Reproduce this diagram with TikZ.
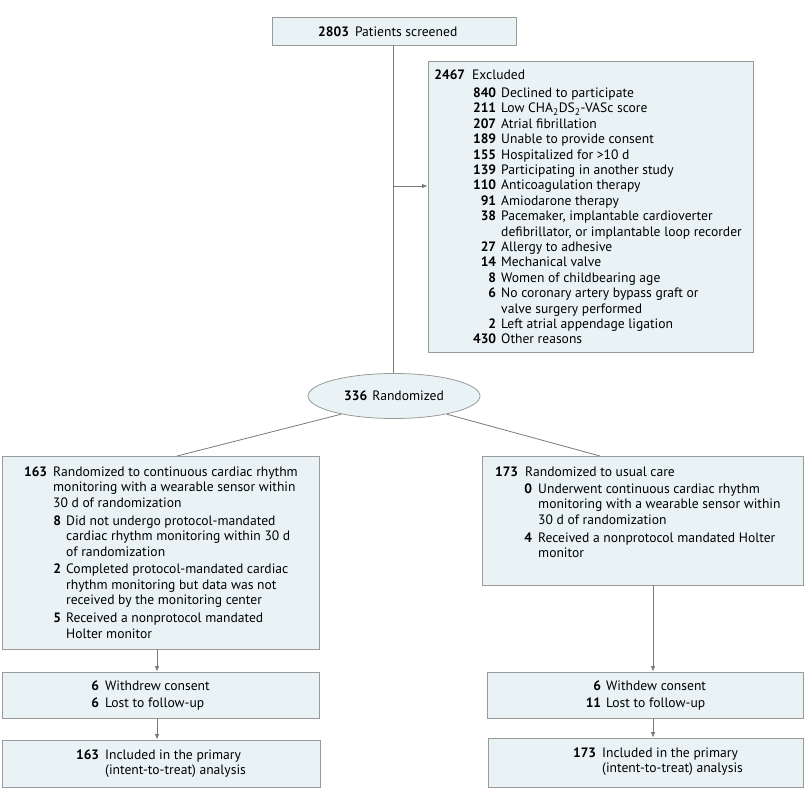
\documentclass[tikz,border=0pt]{standalone}
\usepackage{fontspec}
\setmainfont{PT Sans}
\usetikzlibrary{arrows.meta,shapes.geometric}
\definecolor{boxfill}{HTML}{E9F3F5}
\definecolor{boxline}{HTML}{9A9A9A}
\definecolor{linkgray}{HTML}{7A7A7A}
\newcommand\numrow[4]{\makebox[#1][r]{\textbf{#3}}\hspace{#2}#4}
\newcommand\controw[2]{\hspace{#1}#2}
\begin{document}
\begin{tikzpicture}[x=1pt,y=-1pt,
  font=\fontsize{13.6}{15.4}\selectfont,
  box/.style={draw=boxline, fill=boxfill, line width=0.8pt, inner sep=0pt, rectangle},
  txt/.style={anchor=base west, inner sep=0pt, align=left},
  link/.style={draw=linkgray, line width=0.8pt},
  arr/.style={link, -{Latex[length=5.5pt,width=4.5pt]}}]
\useasboundingbox (0,0) rectangle (810,801);

% boxes
\node[box, minimum width=244pt, minimum height=28pt] (top) at (394,31) {};
\node[box, minimum width=325pt, minimum height=291pt] (excl) at (590.5,206.5) {};
\node[draw=boxline, fill=boxfill, line width=0.8pt, ellipse, inner sep=0pt,
      minimum width=172pt, minimum height=45pt] (rand) at (394,396)
      {\textbf{336}\hspace{5pt}Randomized};
\node[box, minimum width=317pt, minimum height=193pt] (lbox) at (160.5,552.5) {};
\node[box, minimum width=321pt, minimum height=129pt] (rbox) at (642.5,520.5) {};
\node[box, minimum width=317pt, minimum height=46pt] (lw) at (160.5,695) {};
\node[box, minimum width=318pt, minimum height=47pt] (li) at (161,763.5) {};
\node[box, minimum width=316pt, minimum height=46pt] (rw) at (645,695) {};
\node[box, minimum width=315pt, minimum height=49pt] (ri) at (645.5,762.5) {};

% texts
\node[txt] (toptext) at (318,36.5) {\textbf{2803}\hspace{6pt}Patients screened};

\node[txt] (excltext) at (435,79.5) {\begin{tabular}[t]{@{}l@{}}
\numrow{30pt}{7pt}{2467}{Excluded}\\[2.6pt]
\numrow{61pt}{5pt}{840}{Declined to participate}\\
\numrow{61pt}{5pt}{211}{Low CHA\textsubscript{2}DS\textsubscript{2}-VASc score}\\
\numrow{61pt}{5pt}{207}{Atrial fibrillation}\\
\numrow{61pt}{5pt}{189}{Unable to provide consent}\\
\numrow{61pt}{5pt}{155}{Hospitalized for >10 d}\\
\numrow{61pt}{5pt}{139}{Participating in another study}\\
\numrow{61pt}{5pt}{110}{Anticoagulation therapy}\\
\numrow{61pt}{5pt}{91}{Amiodarone therapy}\\
\numrow{61pt}{5pt}{38}{Pacemaker, implantable cardioverter}\\
\controw{66pt}{defibrillator, or implantable loop recorder}\\
\numrow{61pt}{5pt}{27}{Allergy to adhesive}\\
\numrow{61pt}{5pt}{14}{Mechanical valve}\\
\numrow{61pt}{5pt}{8}{Women of childbearing age}\\
\numrow{61pt}{5pt}{6}{No coronary artery bypass graft or}\\
\controw{66pt}{valve surgery performed}\\
\numrow{61pt}{5pt}{2}{Left atrial appendage ligation}\\
\numrow{61pt}{5pt}{430}{Other reasons}
\end{tabular}};

\node[txt] (ltext) at (25,476.5) {\begin{tabular}[t]{@{}l@{}}
\numrow{22pt}{6pt}{163}{Randomized to continuous cardiac rhythm}\\
\controw{28pt}{monitoring with a wearable sensor within}\\
\controw{28pt}{30 d of randomization}\\[2.5pt]
\numrow{36pt}{5pt}{8}{Did not undergo protocol-mandated}\\
\controw{41pt}{cardiac rhythm monitoring within 30 d}\\
\controw{41pt}{of randomization}\\[2.5pt]
\numrow{36pt}{5pt}{2}{Completed protocol-mandated cardiac}\\
\controw{41pt}{rhythm monitoring but data was not}\\
\controw{41pt}{received by the monitoring center}\\[2.5pt]
\numrow{36pt}{5pt}{5}{Received a nonprotocol mandated}\\
\controw{41pt}{Holter monitor}
\end{tabular}};

\node[txt] (rtext) at (495,476.5) {\begin{tabular}[t]{@{}l@{}}
\numrow{23pt}{7pt}{173}{Randomized to usual care}\\[1.5pt]
\numrow{37pt}{6pt}{0}{Underwent continuous cardiac rhythm}\\
\controw{43pt}{monitoring with a wearable sensor within}\\
\controw{43pt}{30 d of randomization}\\[2.5pt]
\numrow{37pt}{6pt}{4}{Received a nonprotocol mandated Holter}\\
\controw{43pt}{monitor}
\end{tabular}};

\node[txt] (lwtext) at (70,690.5) {\begin{tabular}[t]{@{}l@{}}
\numrow{29pt}{6pt}{6}{Withdrew consent}\\[1.5pt]
\numrow{29pt}{6pt}{6}{Lost to follow-up}
\end{tabular}};
\node[txt] (litext) at (70,759.5) {\begin{tabular}[t]{@{}l@{}}
\numrow{29pt}{6pt}{163}{Included in the primary}\\
\controw{35pt}{(intent-to-treat) analysis}
\end{tabular}};
\node[txt] (rwtext) at (565,690.5) {\begin{tabular}[t]{@{}l@{}}
\numrow{36pt}{5pt}{6}{Withdew consent}\\[1.5pt]
\numrow{36pt}{5pt}{11}{Lost to follow-up}
\end{tabular}};
\node[txt] (ritext) at (565,757.5) {\begin{tabular}[t]{@{}l@{}}
\numrow{31pt}{6pt}{173}{Included in the primary}\\
\controw{37pt}{(intent-to-treat) analysis}
\end{tabular}};

% connectors
\coordinate (branch) at (393,186);
\coordinate (lin) at (177,456);
\coordinate (rin) at (600,456);
\coordinate (lax) at (157,0);
\coordinate (rax) at (653,0);
\draw[link] (top.south -| branch) -- (rand.north -| branch);
\draw[arr] (branch) -- (branch -| excl.west);
\draw[link] (rand.199) -- (lin);
\draw[link] (rand.341) -- (rin);
\draw[arr] (lbox.south -| lax) -- (lw.north -| lax);
\draw[arr] (lw.south -| lax) -- (li.north -| lax);
\draw[arr] (rbox.south -| rax) -- (rw.north -| rax);
\draw[arr] (rw.south -| rax) -- (ri.north -| rax);
\end{tikzpicture}
\end{document}
